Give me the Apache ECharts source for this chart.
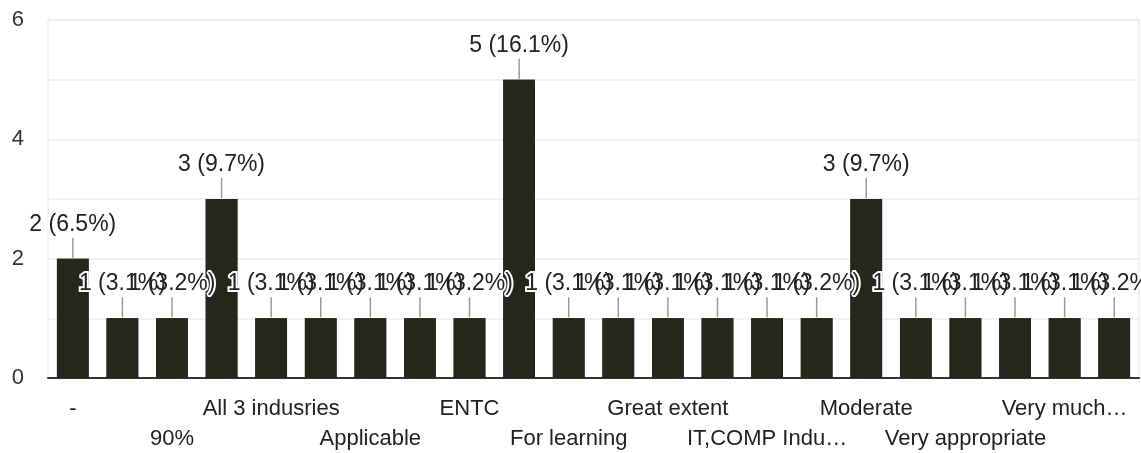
<!DOCTYPE html>
<html>
<head>
<meta charset="utf-8">
<script src="https://cdn.jsdelivr.net/npm/echarts@6/dist/echarts.min.js"></script>
<style>
  html, body { margin: 0; padding: 0; background: #fff; }
  #chart { width: 1141px; height: 453px; }
</style>
</head>
<body>
<div id="chart"></div>
<script>
// Categories (hidden in-between names are not shown on the axis in the reference)
const categories = [
  "-", "80%", "90%", "Any industry", "All 3 indusries", "Average", "Applicable",
  "Civil", "ENTC", "Excellent", "For learning", "Good", "Great extent", "High",
  "IT,COMP Indu…", "Mechanical", "Moderate", "Useful", "Very appropriate",
  "Very good", "Very much…", "Yes"
];
const counts = [2, 1, 1, 3, 1, 1, 1, 1, 1, 5, 1, 1, 1, 1, 1, 1, 3, 1, 1, 1, 1, 1];
const percents = ["6.5", "3.1", "3.2", "9.7", "3.1", "3.1", "3.1", "3.1", "3.2", "16.1", "3.1",
                  "3.1", "3.1", "3.1", "3.1", "3.2", "9.7", "3.1", "3.1", "3.1", "3.1", "3.2"];
const yTicks = [0, 2, 4, 6];

const FONT = '"Liberation Sans", Arial, sans-serif';
const BAR = '#24271a';
const labelText = p => '{t|' + counts[p.dataIndex] + ' (' + percents[p.dataIndex] + '%)}\n{l|}';

function makeLabel(halo) {
  return {
    show: true, position: 'top', distance: 1,
    formatter: labelText,
    rich: {
      t: halo
        ? { fontSize: 23, fontFamily: FONT, lineHeight: 27, color: 'rgba(0,0,0,0)',
            textBorderColor: '#fff', textBorderWidth: 4 }
        : { fontSize: 23, fontFamily: FONT, lineHeight: 27, color: '#222' },
      l: halo
        ? { width: 1.5, height: 20 }
        : { width: 1.5, height: 20, backgroundColor: '#9a9a9a' }
    }
  };
}

const baseAxisLabel = {
  fontSize: 22,
  color: '#222',
  fontFamily: FONT
};

const chart = echarts.init(document.getElementById('chart'), null, { renderer: 'canvas' });
chart.setOption({
  animation: false,
  grid: {
    left: 48, right: 2, top: 20, bottom: 75,
    show: true, borderColor: '#e6e6e6', borderWidth: 1, backgroundColor: 'transparent'
  },
  xAxis: [
    {
      type: 'category',
      data: categories,
      position: 'bottom',
      axisLine: { show: true, lineStyle: { color: '#333', width: 2 } },
      axisTick: { show: false },
      splitLine: { show: false },
      axisLabel: Object.assign({}, baseAxisLabel, {
        margin: 20,
        interval: i => i % 4 === 0
      })
    },
    {
      type: 'category',
      data: categories,
      position: 'bottom',
      axisLine: { show: false },
      axisTick: { show: false },
      splitLine: { show: false },
      axisLabel: Object.assign({}, baseAxisLabel, {
        margin: 50,
        interval: i => i % 4 === 2
      })
    }
  ],
  yAxis: {
    type: 'value',
    min: 0, max: 6, interval: 1,
    axisLine: { show: false },
    axisTick: { show: false },
    splitLine: { show: true, lineStyle: { color: '#ececec', width: 1.5 } },
    axisLabel: {
      margin: 24,
      fontSize: 22,
      color: '#333',
      fontFamily: FONT,
      formatter: v => (yTicks.indexOf(v) >= 0 ? String(v) : '')
    }
  },
  series: [
    {
      // halo layer: white outlines drawn beneath all label texts
      type: 'bar',
      data: counts,
      xAxisIndex: 0,
      barWidth: '64%',
      barGap: '-100%',
      itemStyle: { color: BAR },
      silent: true,
      label: makeLabel(true)
    },
    {
      type: 'bar',
      data: counts,
      xAxisIndex: 0,
      barWidth: '64%',
      barGap: '-100%',
      itemStyle: { color: BAR },
      label: makeLabel(false)
    }
  ]
});
</script>
</body>
</html>
